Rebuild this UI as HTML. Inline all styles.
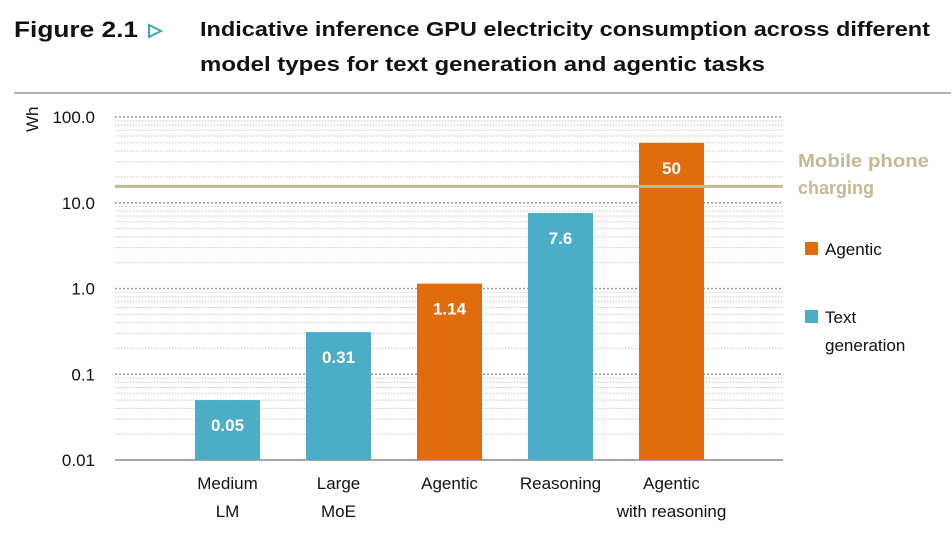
<!DOCTYPE html>
<html><head><meta charset="utf-8">
<style>
body{margin:0;background:#fff;width:951px;height:530px;overflow:hidden;font-family:"Liberation Sans","DejaVu Sans",sans-serif;}
svg text{font-family:"Liberation Sans","DejaVu Sans",sans-serif;}
</style></head>
<body>
<svg id="chart" width="951" height="530">
  <text x="14" y="37" font-size="22" font-weight="bold" fill="#111" textLength="124" lengthAdjust="spacingAndGlyphs">Figure 2.1</text>
  <polygon points="149,25 161,31 149,37" fill="none" stroke="#3aa7c0" stroke-width="2"/>
  <text x="200" y="36" font-size="20" font-weight="bold" fill="#111" textLength="730" lengthAdjust="spacingAndGlyphs">Indicative inference GPU electricity consumption across different</text>
  <text x="200" y="71" font-size="20" font-weight="bold" fill="#111" textLength="565" lengthAdjust="spacingAndGlyphs">model types for text generation and agentic tasks</text>
  <line x1="14" y1="93" x2="951" y2="93" stroke="#999" stroke-width="1.5"/>
  <text transform="translate(38,132) rotate(-90)" font-size="17" fill="#111">Wh</text>
  <g id="grid"></g>
  <g id="bars"></g>
  <g id="labels"></g>
  <g id="legend">
    <text x="798" y="167" font-size="18" font-weight="bold" fill="#c4b994" textLength="131" lengthAdjust="spacingAndGlyphs">Mobile phone</text>
    <text x="798" y="194" font-size="18" font-weight="bold" fill="#c4b994">charging</text>
    <rect x="805" y="242" width="13" height="13" fill="#e06c0b"/>
    <text x="825" y="255" font-size="17" fill="#111">Agentic</text>
    <rect x="805" y="310" width="13" height="13" fill="#4badc6"/>
    <text x="825" y="323" font-size="17" fill="#111">Text</text>
    <text x="825" y="351" font-size="17" fill="#111">generation</text>
  </g>
</svg>
<script>
const categories = [["Medium","LM"],["Large","MoE"],["Agentic"],["Reasoning"],["Agentic","with reasoning"]];
const values = [0.05, 0.31, 1.14, 7.6, 50];
const valueLabels = ["0.05","0.31","1.14","7.6","50"];
const seriesType = ["text","text","agentic","text","agentic"];
const tickValues = [0.01, 0.1, 1, 10, 100];
const tickLabels = ["0.01","0.1","1.0","10.0","100.0"];
const phoneCharging = [15.5];

const NS="http://www.w3.org/2000/svg";
const PL=115, PR=783, PT=117, PB=460, BAND0=172, BAND=111, BW=65;
function y(v){return PB-(Math.log10(v)+2)/4*(PB-PT);}
function x(i){return BAND0+BAND*i+BAND/2;}
function mk(t,a,p){const e=document.createElementNS(NS,t);for(const k in a)e.setAttribute(k,a[k]);p.appendChild(e);return e;}
const grid=document.getElementById('grid'),bars=document.getElementById('bars'),labels=document.getElementById('labels');

for(let d=-2;d<2;d++){for(let m=2;m<=9;m++){
  const gy=y(m*Math.pow(10,d));
  const l=mk('line',{x1:PL,x2:PR,y1:gy,y2:gy,stroke:'#c8c8c8','stroke-width':1,'stroke-dasharray':'1.5 1.5'},grid);
  
  
}}
tickValues.forEach((t,i)=>{
  const gy=y(t);
  if(i>0){const l=mk('line',{x1:PL,x2:PR,y1:gy,y2:gy,stroke:'#999','stroke-width':1.5,'stroke-dasharray':'2 2'},grid);
  
  }
  const tx=mk('text',{x:95,y:gy+6,'font-size':17,fill:'#111','text-anchor':'end'},grid);
  tx.textContent=tickLabels[i];
  
  
});
const ax=mk('line',{x1:PL,x2:PR,y1:PB,y2:PB,stroke:'#888','stroke-width':1.5},grid);



values.forEach((v,i)=>{
  const cx=x(i),top=y(v);
  const r=mk('rect',{x:cx-BW/2,y:top,width:BW,height:PB-top,fill:seriesType[i]==='agentic'?'#e06c0b':'#4badc6'},bars);
  
  
  const t=mk('text',{x:cx,y:top+31,'font-size':17,'font-weight':'bold',fill:'#fff','text-anchor':'middle'},labels);
  t.textContent=valueLabels[i];
  
  
  categories[i].forEach((s,j)=>{
    const c=mk('text',{x:cx,y:489+j*28,'font-size':17,fill:'#111','text-anchor':'middle'},labels);
    c.textContent=s;
    
    
  });
});
const py=y(phoneCharging[0]);
const pl=mk('line',{x1:PL,x2:PR,y1:py,y2:py,stroke:'#c4b994','stroke-width':3},labels);


</script>
</body></html>
